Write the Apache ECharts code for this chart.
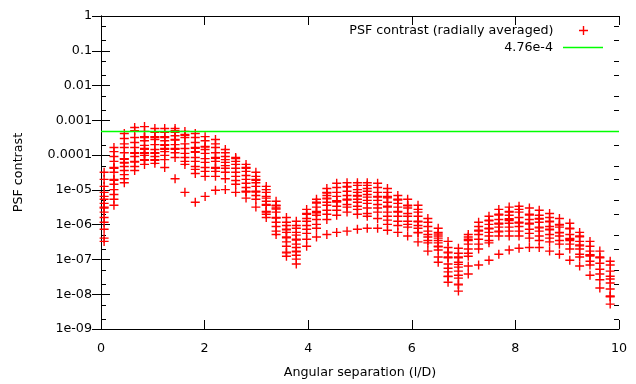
<!DOCTYPE html>
<html><head><meta charset="utf-8">
<script src="https://cdn.jsdelivr.net/npm/echarts@6/dist/echarts.min.js"></script>
<style>html,body{margin:0;padding:0;background:#fff}#c{width:636px;height:384px}</style>
</head><body><div id="c"></div>
<script>
// Angular separation (l/D) of each radial sample column
const separations = [0.06,0.25,0.45,0.65,0.84,1.04,1.23,1.43,1.62,1.82,2.01,2.21,2.40,2.60,2.80,2.99,3.19,3.38,3.58,3.77,3.97,4.16,4.36,4.55,4.75,4.95,5.14,5.34,5.53,5.73,5.92,6.12,6.31,6.51,6.70,6.90,7.09,7.29,7.49,7.68,7.88,8.07,8.27,8.46,8.66,8.85,9.05,9.24,9.44,9.63,9.83];
// PSF contrast values found at each separation
const contrastColumns = [
[3.2e-5,2.0e-5,1.26e-5,8.5e-6,6.5e-6,5.4e-6,4.1e-6,3.2e-6,3.0e-6,2.3e-6,1.6e-6,1.17e-6,7.4e-7,4.1e-7,3.3e-7],
[1.66e-4,1.26e-4,9.1e-5,6.6e-5,4.4e-5,4.2e-5,3.2e-5,2.0e-5,1.9e-5,1.45e-5,1.02e-5,7.4e-6,5.4e-6,3.6e-6],
[4.2e-4,3.0e-4,2.1e-4,1.66e-4,1.17e-4,7.9e-5,7.6e-5,6.2e-5,5.9e-5,4.7e-5,3.6e-5,2.75e-5,2.1e-5,1.6e-5],
[6.2e-4,5.0e-4,3.2e-4,2.3e-4,1.66e-4,1.17e-4,1.12e-4,9.1e-5,6.6e-5,6.3e-5,4.7e-5,3.6e-5],
[6.6e-4,4.8e-4,3.4e-4,3.2e-4,2.6e-4,1.9e-4,1.55e-4,1.48e-4,1.17e-4,1.12e-4,9.8e-5,7.4e-5,7.1e-5,5.4e-5],
[5.8e-4,4.5e-4,3.4e-4,3.2e-4,2.8e-4,2.0e-4,1.45e-4,1.17e-4,1.12e-4,9.1e-5,7.4e-5,7.1e-5,5.8e-5],
[5.8e-4,4.5e-4,3.4e-4,3.2e-4,2.6e-4,2.0e-4,1.9e-4,1.55e-4,1.48e-4,1.26e-4,9.8e-5,7.4e-5,4.4e-5],
[5.8e-4,5.0e-4,4.5e-4,3.6e-4,2.8e-4,2.7e-4,2.0e-4,1.55e-4,1.48e-4,1.17e-4,8.5e-5,2.1e-5],
[4.8e-4,3.9e-4,3.7e-4,3.2e-4,2.1e-4,1.55e-4,1.12e-4,8.5e-5,6.6e-5,5.4e-5,8.5e-6],
[4.2e-4,3.2e-4,2.3e-4,1.66e-4,1.58e-4,1.26e-4,1.2e-4,8.5e-5,6.6e-5,4.7e-5,3.9e-5,2.95e-5,4.4e-6],
[3.4e-4,2.6e-4,1.78e-4,1.7e-4,1.45e-4,1.12e-4,7.9e-5,6.2e-5,4.4e-5,3.4e-5,2.45e-5,6.5e-6],
[2.8e-4,2.1e-4,1.66e-4,1.17e-4,8.5e-5,8.1e-5,6.6e-5,4.4e-5,4.2e-5,3.4e-5,2.45e-5,9.8e-6],
[1.45e-4,1.17e-4,9.1e-5,7.4e-5,6.2e-5,5.0e-5,4.2e-5,3.2e-5,2.1e-5,1.02e-5],
[8.5e-5,7.9e-5,6.6e-5,5.4e-5,4.2e-5,3.2e-5,2.45e-5,1.86e-5,1.45e-5,8.5e-6],
[5.4e-5,4.4e-5,4.2e-5,3.4e-5,2.6e-5,2.0e-5,1.55e-5,1.17e-5,9.1e-6,8.7e-6,5.8e-6],
[3.2e-5,2.45e-5,2.0e-5,1.9e-5,1.6e-5,1.26e-5,9.1e-6,8.7e-6,6.9e-6,5.4e-6,3.2e-6],
[1.26e-5,1.02e-5,8.5e-6,6.5e-6,5.8e-6,4.7e-6,3.8e-6,3.6e-6,2.4e-6,2.3e-6,2.0e-6,1.6e-6],
[4.7e-6,3.6e-6,3.5e-6,3.0e-6,2.8e-6,2.3e-6,1.6e-6,1.55e-6,1.17e-6,8.9e-7,6.5e-7,5.2e-7],
[1.6e-6,1.17e-6,9.5e-7,7.4e-7,7.1e-7,6.0e-7,4.4e-7,4.2e-7,3.2e-7,2.4e-7,1.62e-7,1.55e-7,1.23e-7],
[1.26e-6,9.5e-7,7.9e-7,6.0e-7,5.0e-7,3.8e-7,3.6e-7,2.75e-7,2.2e-7,1.74e-7,1.66e-7,1.32e-7,1.02e-7,7.4e-8],
[2.75e-6,2.1e-6,2.0e-6,1.5e-6,1.26e-6,9.5e-7,7.4e-7,5.6e-7,3.8e-7,2.4e-7],
[5.4e-6,4.4e-6,4.2e-6,3.2e-6,2.4e-6,2.3e-6,2.2e-6,1.86e-6,1.41e-6,1.02e-6,7.9e-7,4.4e-7],
[1.1e-5,8.5e-6,8.1e-6,6.9e-6,5.8e-6,5.5e-6,4.4e-6,3.6e-6,2.6e-6,2.0e-6,1.41e-6,5.2e-7],
[1.55e-5,1.17e-5,8.5e-6,6.5e-6,4.9e-6,4.7e-6,4.5e-6,3.4e-6,2.6e-6,1.86e-6,6.0e-7],
[1.6e-5,1.26e-5,1.2e-5,9.1e-6,6.9e-6,5.4e-6,5.1e-6,3.8e-6,3.2e-6,2.3e-6,6.5e-7],
[1.6e-5,1.35e-5,1.02e-5,8.5e-6,6.9e-6,6.6e-6,5.4e-6,4.4e-6,3.4e-6,2.75e-6,2.0e-6,7.4e-7],
[1.6e-5,1.35e-5,1.1e-5,9.1e-6,7.4e-6,6.2e-6,5.0e-6,4.1e-6,3.0e-6,2.1e-6,1.74e-6,7.9e-7],
[1.55e-5,1.17e-5,8.5e-6,6.5e-6,6.2e-6,5.0e-6,3.8e-6,3.0e-6,2.3e-6,1.5e-6,7.9e-7],
[1.1e-5,8.5e-6,6.5e-6,6.2e-6,5.9e-6,4.4e-6,3.4e-6,3.2e-6,2.3e-6,1.74e-6,1.35e-6,1.02e-6,6.9e-7],
[6.9e-6,5.4e-6,5.1e-6,4.1e-6,3.2e-6,2.4e-6,2.3e-6,1.74e-6,1.26e-6,9.5e-7,6.0e-7],
[5.4e-6,3.6e-6,3.5e-6,3.0e-6,2.1e-6,1.74e-6,1.26e-6,1.02e-6,8.5e-7,4.7e-7],
[3.6e-6,2.75e-6,2.3e-6,1.74e-6,1.26e-6,1.2e-6,9.5e-7,7.9e-7,6.0e-7,5.8e-7,3.2e-7],
[1.5e-6,1.17e-6,8.9e-7,6.5e-7,5.2e-7,4.4e-7,3.5e-7,3.0e-7,1.74e-7],
[7.9e-7,6.0e-7,5.4e-7,4.7e-7,4.1e-7,3.5e-7,3.0e-7,2.4e-7,2.3e-7,1.86e-7,1.17e-7,8.3e-8],
[3.3e-7,2.2e-7,1.62e-7,1.55e-7,1.17e-7,1.12e-7,7.4e-8,5.6e-8,4.4e-8,3.3e-8,3.2e-8,2.2e-8],
[2.1e-7,1.5e-7,1.17e-7,1.12e-7,8.3e-8,7.2e-8,6.0e-8,4.6e-8,3.5e-8,2.9e-8,1.95e-8,1.86e-8,1.23e-8],
[5.2e-7,4.4e-7,3.8e-7,3.5e-7,2.75e-7,2.0e-7,1.5e-7,1.23e-7,6.5e-8,3.8e-8],
[1.17e-6,8.9e-7,6.9e-7,6.6e-7,5.2e-7,3.8e-7,2.75e-7,2.0e-7,6.9e-8],
[1.74e-6,1.35e-6,1.29e-6,1.02e-6,7.9e-7,7.6e-7,6.0e-7,4.7e-7,3.5e-7,3.0e-7,9.5e-8],
[2.75e-6,2.0e-6,1.9e-6,1.41e-6,1.1e-6,1.05e-6,8.5e-7,6.5e-7,6.2e-7,4.7e-7,1.41e-7],
[3.2e-6,2.4e-6,2.3e-6,1.86e-6,1.48e-6,1.41e-6,1.32e-6,1.1e-6,8.5e-7,6.5e-7,4.7e-7,1.86e-7],
[3.4e-6,2.75e-6,2.3e-6,1.6e-6,1.17e-6,1.12e-6,8.9e-7,6.5e-7,4.7e-7,2.1e-7],
[3.0e-6,2.0e-6,1.9e-6,1.41e-6,1.1e-6,1.05e-6,7.4e-7,5.6e-7,4.1e-7,2.2e-7],
[2.6e-6,1.86e-6,1.5e-6,1.45e-6,1.17e-6,8.5e-7,8.1e-7,6.5e-7,4.7e-7,3.5e-7,2.2e-7],
[2.1e-6,1.6e-6,1.26e-6,1.2e-6,8.9e-7,7.4e-7,7.1e-7,5.2e-7,4.1e-7,3.2e-7,1.74e-7],
[1.5e-6,1.02e-6,9.8e-7,8.5e-7,6.0e-7,5.8e-7,4.7e-7,3.5e-7,2.75e-7,1.41e-7],
[1.1e-6,7.9e-7,7.6e-7,5.2e-7,4.0e-7,3.8e-7,3.5e-7,2.75e-7,2.0e-7,9.5e-8],
[6.0e-7,4.7e-7,4.5e-7,3.3e-7,2.6e-7,2.45e-7,2.0e-7,1.41e-7,1.17e-7,6.5e-8],
[3.3e-7,2.4e-7,1.74e-7,1.38e-7,1.32e-7,1.26e-7,8.9e-8,6.9e-8,3.5e-8],
[1.74e-7,1.17e-7,1.12e-7,7.8e-8,5.2e-8,3.8e-8,2.6e-8,1.51e-8],
[8.9e-8,6.9e-8,4.6e-8,3.3e-8,2.75e-8,2.1e-8,1.41e-8,8.9e-9,8.5e-9,5.2e-9]
];
const threshold = 4.76e-4;
const thresholdLabel = '4.76e-4';
const seriesLabel = 'PSF contrast (radially averaged)';
const yTickLabels = ['1e-09','1e-08','1e-07','1e-06','1e-05','0.0001','0.001','0.01','0.1','1'];
const yMinorTicks = [2e-9,5e-9,2e-8,5e-8,2e-7,5e-7,2e-6,5e-6,2e-5,5e-5,2e-4,5e-4,2e-3,5e-3,2e-2,5e-2,0.2,0.5];

const scatterData = [];
contrastColumns.forEach((col, i) => col.forEach(v => scatterData.push([separations[i], v])));

const FONT = 'DejaVu Sans';
const FS = 12.7;
const plus = 'path://M0,38H38V0H52V38H90V52H52V90H38V52H0Z';
const axisLineStyle = {show: true, lineStyle: {color: '#000', width: 1}};
const txt = {color: '#000', fontFamily: FONT, fontSize: FS};
const tick = {show: true, inside: true, length: 9, lineStyle: {color: '#000', width: 1}};

function legendText(pad) {
  return {
    formatter: name => '{a|' + name + '}',
    textStyle: Object.assign({}, txt, {rich: {a: Object.assign({}, txt, {padding: [0, pad, 0, 0]})}})
  };
}

const chart = echarts.init(document.getElementById('c'), null, {renderer: 'canvas'});
chart.setOption({
  animation: false,
  backgroundColor: '#fff',
  grid: {left: 101, right: 17, top: 16, bottom: 54, containLabel: false},
  legend: [
    Object.assign({data: [{name: seriesLabel, icon: plus, itemStyle: {color: '#ff0000'}}], right: 48, top: 24, align: 'right', orient: 'vertical',
      itemWidth: 40, itemHeight: 9, padding: 0, selectedMode: false, symbolKeepAspect: true}, legendText(5)),
    Object.assign({data: [{name: thresholdLabel, icon: 'path://M0,0H40V1.5H0Z', itemStyle: {color: '#00ff00'}}], right: 33, top: 41, align: 'right', orient: 'vertical',
      itemWidth: 40, itemHeight: 9, padding: 0, selectedMode: false, symbolKeepAspect: true}, legendText(5))
  ],
  xAxis: [
    {type: 'value', min: 0, max: 10, interval: 2, position: 'bottom',
     axisLine: axisLineStyle, axisTick: tick,
     axisLabel: Object.assign({margin: 13}, txt), splitLine: {show: false},
     name: 'Angular separation (l/D)', nameLocation: 'middle', nameGap: 37, nameTextStyle: txt},
    {type: 'value', min: 0, max: 10, interval: 2, position: 'top',
     axisLine: axisLineStyle, axisTick: tick,
     axisLabel: {show: false}, splitLine: {show: false}}
  ],
  yAxis: [
    {type: 'log', logBase: 10, min: 1e-9, max: 1, splitNumber: 9, position: 'left',
     axisLine: axisLineStyle, axisTick: tick,
     axisLabel: Object.assign({margin: 9, formatter: v => yTickLabels[Math.round(Math.log10(v)) + 9]}, txt),
     splitLine: {show: false},
     name: 'PSF contrast', nameLocation: 'middle', nameGap: 76, nameRotate: 90, nameTextStyle: txt},
    {type: 'log', logBase: 10, min: 1e-9, max: 1, splitNumber: 9, position: 'right',
     axisLine: axisLineStyle, axisTick: tick,
     axisLabel: {show: false}, splitLine: {show: false}}
  ],
  series: [
    {type: 'custom', silent: true, xAxisIndex: 0, yAxisIndex: 0, z: 1,
     data: yMinorTicks.map(v => [0, v]), encode: {x: 0, y: 1},
     renderItem: (params, api) => {
       const v = api.value(1);
       const pL = api.coord([0, v]), pR = api.coord([10, v]);
       const y = Math.round(pL[1]) + 0.5;
       return {type: 'group', children: [
         {type: 'line', shape: {x1: pL[0], y1: y, x2: pL[0] + 5, y2: y}, style: {stroke: '#000', lineWidth: 1}},
         {type: 'line', shape: {x1: pR[0], y1: y, x2: pR[0] - 5, y2: y}, style: {stroke: '#000', lineWidth: 1}}
       ]};
     }},
    {name: seriesLabel, type: 'scatter', symbol: plus, symbolSize: 9, data: scatterData,
     itemStyle: {color: '#ff0000', opacity: 1}, z: 2},
    {name: thresholdLabel, type: 'line', symbol: 'none', data: [[0, threshold], [10, threshold]],
     lineStyle: {color: '#00ff00', width: 1.5}, itemStyle: {color: '#00ff00'}, z: 3}
  ]
});
</script></body></html>
